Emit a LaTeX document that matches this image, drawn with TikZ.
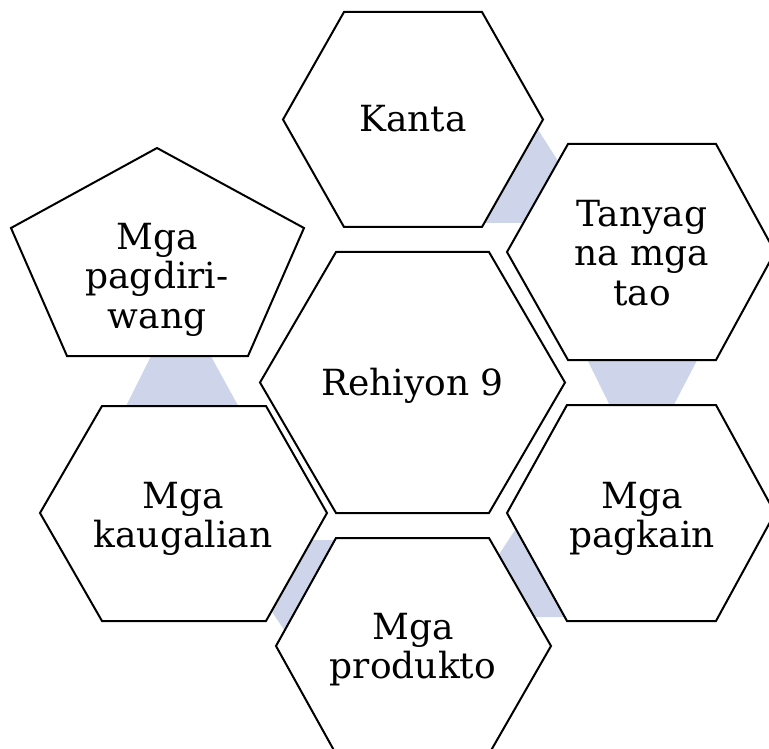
\documentclass[tikz,border=0pt]{standalone}
\usepackage{fontspec}
\setmainfont{DejaVu Serif}
\definecolor{conn}{RGB}{206,212,234}
\begin{document}
\begin{tikzpicture}[x=0.75pt,y=-0.75pt,
  cell/.style={draw=black,fill=white,line width=1.5pt,line join=miter},
  link/.style={fill=conn,draw=none},
  lbl/.style={anchor=north,inner sep=0pt,align=center,font=\fontsize{27}{29.6}\selectfont}]
\useasboundingbox (0,0) rectangle (769,749);
% connectors (behind)
\fill[link] (530,117) -- (565,172) -- (540,223) -- (470,223) -- cycle;
\fill[link] (580,345) -- (705,345) -- (666,420) -- (617,420) -- cycle;
\fill[link] (159,340) -- (202,340) -- (246,420) -- (119,420) -- cycle;
\fill[link] (290,540) -- (345,540) -- (291,640) -- (264,600) -- cycle;
\fill[link] (525,515) -- (580,617) -- (520,617) -- (492,565) -- cycle;
% shapes
\draw[cell] (283,119.5) -- (344,12) -- (482,12) -- (543,119.5) -- (482,227) -- (344,227) -- cycle;
\draw[cell] (507,252) -- (568,144) -- (716,144) -- (775,252) -- (716,360) -- (568,360) -- cycle;
\draw[cell] (260,382.5) -- (336,252) -- (489,252) -- (565,382.5) -- (489,513) -- (336,513) -- cycle;
\draw[cell] (40,513) -- (102,406) -- (266,406) -- (327,513) -- (266,621) -- (102,621) -- cycle;
\draw[cell] (507,513) -- (567,405) -- (716,405) -- (775,513) -- (716,621) -- (567,621) -- cycle;
\draw[cell] (276,646) -- (336,538) -- (489,538) -- (551,646) -- (489,754) -- (336,754) -- cycle;
\draw[cell] (157,148) -- (304,228) -- (248,356) -- (67,356) -- (11,228) -- cycle;
% labels
\node[lbl] (kanta) at (413,105) {Kanta};
\node[lbl] (tanyag) at (642,200) {Tanyag\\na mga\\tao};
\node[lbl] (rehiyon) at (412.5,368) {Rehiyon 9};
\node[lbl] (pagdiriwang) at (157,223) {Mga\\pagdiri-\\wang};
\node[lbl] (kaugalian) at (183,482) {Mga\\kaugalian};
\node[lbl] (pagkain) at (642,482) {Mga\\pagkain};
\node[lbl] (produkto) at (413,613) {Mga\\produkto};
\end{tikzpicture}
\end{document}
